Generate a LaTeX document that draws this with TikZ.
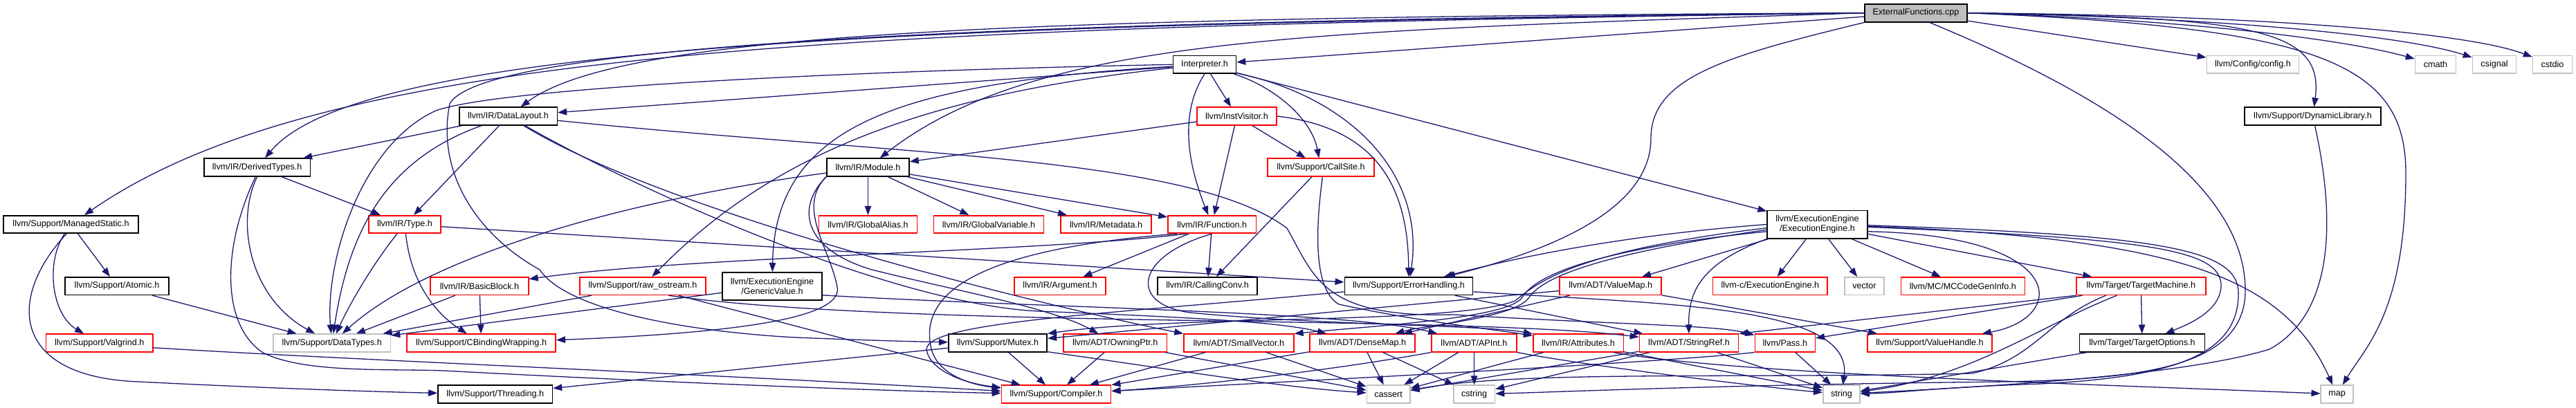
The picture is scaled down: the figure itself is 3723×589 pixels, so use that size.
\documentclass[tikz,border=0pt]{standalone}
\usepackage{fontspec}
\setmainfont{Liberation Sans}
\usetikzlibrary{arrows.meta}
\definecolor{edgecol}{HTML}{191970}
\definecolor{grey75}{HTML}{BFBFBF}
\newcommand\nodefnt{\fontsize{12.6}{14.3}\selectfont}
\begin{document}
\begin{tikzpicture}[x=1pt,y=-1pt,
  nb/.style={draw, line width=1.6pt, inner sep=0pt, minimum height=25.5pt, font=\nodefnt, align=center, text=black},
  bk/.style={nb, draw=black},
  rd/.style={nb, draw=red},
  gy/.style={nb, draw=grey75},
  dep/.style={draw=edgecol, line width=1.3pt, -{Triangle[length=13pt,width=9.5pt]}}]
\useasboundingbox (0,0) rectangle (3723,589);
% row 0
\node[bk, fill=grey75, minimum width=148, minimum height=26] (EF) at (2769,18.7) {ExternalFunctions.cpp};
% row 1
\node[bk, minimum width=91] (I) at (1741,93.3) {Interpreter.h};
\node[gy, minimum width=133] (cfg) at (3256,93.3) {llvm/Config/config.h};
\node[gy, minimum width=59] (cmath) at (3520,93.3) {cmath};
\node[gy, minimum width=63] (csignal) at (3605,93.3) {csignal};
\node[gy, minimum width=57] (cstdio) at (3689,93.3) {cstdio};
% row 2
\node[bk, minimum width=141.6] (DL) at (734.5,168) {llvm/IR/DataLayout.h};
\node[rd, minimum width=115.5] (IV) at (1787.5,168) {llvm/InstVisitor.h};
\node[bk, minimum width=196.7] (DyL) at (3342.5,168) {llvm/Support/DynamicLibrary.h};
% row 3
\node[bk, minimum width=153.4] (DvT) at (371.7,242) {llvm/IR/DerivedTypes.h};
\node[bk, minimum width=119] (Mod) at (1254.5,242) {llvm/IR/Module.h};
\node[rd, minimum width=154] (CS) at (1909,242) {llvm/Support/CallSite.h};
% row 4
\node[bk, minimum width=195] (MS) at (102.5,324.5) {llvm/Support/ManagedStatic.h};
\node[rd, minimum width=104] (Ty) at (585,324.5) {llvm/IR/Type.h};
\node[rd, minimum width=141.7] (GA) at (1254.5,324.5) {llvm/IR/GlobalAlias.h};
\node[rd, minimum width=159] (GVar) at (1429,324.5) {llvm/IR/GlobalVariable.h};
\node[rd, minimum width=131] (Meta) at (1598.5,324.5) {llvm/IR/Metadata.h};
\node[rd, minimum width=127.5] (Fn) at (1751.7,324.5) {llvm/IR/Function.h};
\node[bk, minimum width=144.5, minimum height=40.4] (EE) at (2626.5,324.5) {llvm/ExecutionEngine\\/ExecutionEngine.h};
% row 5
\node[bk, minimum width=150] (At) at (169,413.7) {llvm/Support/Atomic.h};
\node[rd, minimum width=141.6] (BB) at (693,413.7) {llvm/IR/BasicBlock.h};
\node[rd, minimum width=181.6] (RO) at (929,413.7) {llvm/Support/raw\_ostream.h};
\node[bk, minimum width=143.8, minimum height=40] (GV) at (1116,414) {llvm/ExecutionEngine\\/GenericValue.h};
\node[rd, minimum width=132.3] (Arg) at (1532,413.7) {llvm/IR/Argument.h};
\node[bk, minimum width=144.4] (CC) at (1745,413.7) {llvm/IR/CallingConv.h};
\node[bk, minimum width=185.3] (EH) at (2036,413.7) {llvm/Support/ErrorHandling.h};
\node[rd, minimum width=147] (VM) at (2327.7,413.7) {llvm/ADT/ValueMap.h};
\node[rd, minimum width=165.8] (LcEE) at (2558.3,413.7) {llvm-c/ExecutionEngine.h};
\node[gy, minimum width=57.5] (vec) at (2694.5,413.7) {vector};
\node[rd, minimum width=179] (MC) at (2836.8,413.7) {llvm/MC/MCCodeGenInfo.h};
\node[rd, minimum width=187] (TM) at (3094.3,413.7) {llvm/Target/TargetMachine.h};
% row 6
\node[rd, minimum width=154.7] (Vg) at (143.8,496) {llvm/Support/Valgrind.h};
\node[gy, minimum width=169.5] (DT) at (479.7,496) {llvm/Support/DataTypes.h};
\node[rd, minimum width=215.3] (CBW) at (695.6,496) {llvm/Support/CBindingWrapping.h};
\node[bk, minimum width=142.5] (Mx) at (1442,496) {llvm/Support/Mutex.h};
\node[rd, minimum width=149.5] (OP) at (1611.7,496) {llvm/ADT/OwningPtr.h};
\node[rd, minimum width=158.8] (SV) at (1790.4,496) {llvm/ADT/SmallVector.h};
\node[rd, minimum width=151.5] (DM) at (1969,496) {llvm/ADT/DenseMap.h};
\node[rd, minimum width=122.8] (AP) at (2130.4,496) {llvm/ADT/APInt.h};
\node[rd, minimum width=130.6] (Attr) at (2281,496) {llvm/IR/Attributes.h};
\node[rd, minimum width=142.9] (SR) at (2441,496) {llvm/ADT/StringRef.h};
\node[rd, minimum width=87] (Pass) at (2579.8,496) {llvm/Pass.h};
\node[rd, minimum width=179.8] (VH) at (2789,496) {llvm/Support/ValueHandle.h};
\node[bk, minimum width=181.3] (TO) at (3096,496) {llvm/Target/TargetOptions.h};
% row 7
\node[bk, minimum width=165.4] (Thr) at (715.7,570) {llvm/Support/Threading.h};
\node[rd, minimum width=158.3] (Comp) at (1526.5,570) {llvm/Support/Compiler.h};
\node[gy, minimum width=62.3] (cas) at (2006.6,570) {cassert};
\node[gy, minimum width=59.6] (cstr) at (2130.6,570) {cstring};
\node[gy, minimum width=53.4] (str) at (2661.4,570) {string};
\node[gy, minimum width=46.5] (map) at (3377.5,570) {map};

% ---- ExternalFunctions.cpp
\draw[dep] (EF) -- (I);
\draw[dep] (EF) -- (cfg);
\draw[dep] (EF.east) .. controls (3150,28) and (3380,55) .. (cmath);
\draw[dep] (EF.east) .. controls (3200,25) and (3470,50) .. (csignal);
\draw[dep] (EF.east) .. controls (3250,22) and (3560,45) .. (cstdio);
\draw[dep] (EF.east) .. controls (3250,25) and (3360,40) .. (DyL);
\draw[dep] (EF.east) .. controls (3350,40) and (3477,90) .. (3477,250) .. controls (3477,450) and (3420,500) .. (map);
\draw[dep] (EF.-35) .. controls (3000,120) and (3245,250) .. (3245,420) .. controls (3245,530) and (3100,548) .. (2900,552) .. controls (2500,556) and (2250,567) .. (cstr);
\draw[dep] (EF.south west) .. controls (2500,80) and (2386,110) .. (2386,200) .. controls (2386,300) and (2250,360) .. (EH);
\draw[dep] (EF.west) .. controls (1500,25) and (900,45) .. (DL);
\draw[dep] (EF.west) .. controls (1300,35) and (520,65) .. (DvT);
\draw[dep] (EF.west) .. controls (1200,40) and (470,70) .. (MS);
\draw[dep] (EF.west) .. controls (1900,45) and (1500,50) .. (Mod);
\draw[dep] (EF.west) .. controls (1500,30) and (700,60) .. (650,150) .. controls (630,250) and (690,340) .. (780,390) .. controls (820,450) and (1000,480) .. (1150,488) .. controls (1250,492) and (1320,494) .. (Mx);
% ---- Interpreter.h
\draw[dep] (I) -- (EE);
\draw[dep] (I) .. controls (1300,120) and (1120,180) .. (GV);
\draw[dep] (I) -- (DL);
\draw[dep] (I.west) .. controls (1200,103) and (720,128) .. (630,160) .. controls (520,210) and (470,380) .. (DT);
\draw[dep] (I.south) .. controls (1700,170) and (1722,250) .. (Fn);
\draw[dep] (I) -- (IV);
\draw[dep] (I) .. controls (1840,125) and (1895,170) .. (CS);
\draw[dep] (I.-15) .. controls (1950,140) and (2060,250) .. (EH);
\draw[dep] (I) .. controls (1300,140) and (1100,240) .. (RO);
% ---- InstVisitor.h
\draw[dep] (IV) -- (Mod);
\draw[dep] (IV) -- (Fn);
\draw[dep] (IV) -- (CS);
\draw[dep] (IV.east) .. controls (1990,185) and (2035,270) .. (EH);
% ---- DataLayout.h
\draw[dep] (DL) -- (DvT);
\draw[dep] (DL) .. controls (560,230) and (505,330) .. (DT);
\draw[dep] (DL) -- (Ty);
\draw[dep] (DL) .. controls (950,300) and (1450,430) .. (SV.north west);
\draw[dep] (DL) .. controls (950,290) and (1300,440) .. (1500,450) .. controls (1700,458) and (1850,465) .. (DM);
\draw[dep] (DL.-5) .. controls (1300,225) and (1720,225) .. (1860,330) .. controls (1900,400) and (1910,460) .. (2100,455) .. controls (2350,470) and (2480,470) .. (Pass);
% ---- DerivedTypes.h
\draw[dep] (DvT) -- (Ty);
\draw[dep] (DvT.south) .. controls (340,320) and (360,430) .. (DT);
\draw[dep] (DvT.-100) .. controls (320,360) and (320,470) .. (380,510) .. controls (440,540) and (560,533) .. (640,536) .. controls (1000,555) and (1300,566) .. (Comp);
% ---- Module.h
\draw[dep] (Mod) -- (GA);
\draw[dep] (Mod) -- (GVar);
\draw[dep] (Mod) -- (Meta);
\draw[dep] (Mod) -- (Fn);
\draw[dep] (Mod) .. controls (900,290) and (620,370) .. (DT);
\draw[dep] (Mod.south west) .. controls (1150,300) and (1200,360) .. (1210,415) .. controls (1218,455) and (1100,480) .. (CBW);
\draw[dep] (Mod.south west) .. controls (1150,300) and (1160,360) .. (1260,390) .. controls (1380,420) and (1520,445) .. (OP);
% ---- Type.h
\draw[dep] (Ty) .. controls (540,380) and (505,440) .. (DT);
\draw[dep] (Ty) .. controls (595,420) and (640,460) .. (CBW);
\draw[dep] (Ty) -- (EH);
% ---- Function.h
\draw[dep] (Fn) -- (Arg);
\draw[dep] (Fn) -- (CC);
\draw[dep] (Fn.-160) .. controls (1500,365) and (1000,370) .. (BB);
\draw[dep] (Fn.-165) .. controls (1420,360) and (1330,420) .. (1345,500) .. controls (1352,540) and (1400,556) .. (Comp);
\draw[dep] (Fn.south) .. controls (1640,370) and (1630,440) .. (1720,452) .. controls (1900,470) and (2150,470) .. (Attr);
% ---- CallSite.h
\draw[dep] (CS) -- (CC);
\draw[dep] (CS.-80) .. controls (1900,340) and (1900,420) .. (1935,440) .. controls (2050,465) and (2150,475) .. (Attr);
% ---- misc
\draw[dep] (GV) -- (DT);
\draw[dep] (GV.-10) .. controls (1500,445) and (1950,450) .. (AP);
\draw[dep] (RO) -- (DT);
\draw[dep] (RO) -- (Comp);
\draw[dep] (RO.-20) .. controls (1300,475) and (2100,455) .. (SR);
\draw[dep] (BB) -- (CBW);
\draw[dep] (BB) -- (DT);
\draw[dep] (At) -- (DT);
\draw[dep] (MS) -- (At);
\draw[dep] (MS) .. controls (65,380) and (75,455) .. (Vg);
\draw[dep] (MS.-115) .. controls (10,430) and (15,545) .. (200,552) .. controls (400,562) and (560,567) .. (Thr);
\draw[dep] (Vg.-5) .. controls (500,520) and (1000,540) .. (Comp);
% ---- row 6 to row 7
\draw[dep] (Mx) -- (Comp);
\draw[dep] (Mx) -- (Thr);
\draw[dep] (Mx.-10) .. controls (1700,535) and (1850,560) .. (cas);
\draw[dep] (OP) -- (Comp);
\draw[dep] (OP) -- (cas);
\draw[dep] (SV) -- (Comp);
\draw[dep] (SV) -- (cas);
\draw[dep] (DM) -- (cas);
\draw[dep] (DM) -- (cstr);
\draw[dep] (DM) -- (Comp);
\draw[dep] (AP) -- (cas);
\draw[dep] (AP) -- (cstr);
\draw[dep] (AP.south west) .. controls (1900,540) and (1700,560) .. (Comp);
\draw[dep] (AP.south east) .. controls (2300,530) and (2550,560) .. (str);
\draw[dep] (Attr) -- (cas);
\draw[dep] (Attr.-15) .. controls (2500,540) and (3000,555) .. (map);
\draw[dep] (Attr) -- (str);
\draw[dep] (SR) -- (cas);
\draw[dep] (SR) -- (cstr);
\draw[dep] (SR) -- (str);
% ---- ErrorHandling.h, ValueMap.h
\draw[dep] (EH) -- (SR);
\draw[dep] (EH.-175) .. controls (1600,455) and (1320,465) .. (1340,510) .. controls (1350,540) and (1400,555) .. (Comp);
\draw[dep] (EH.-5) .. controls (2400,440) and (2680,440) .. (str);
\draw[dep] (VM) -- (DM);
\draw[dep] (VM) -- (Mx);
\draw[dep] (VM) -- (VH);
% ---- ExecutionEngine.h
\draw[dep] (EE) -- (LcEE);
\draw[dep] (EE) -- (vec);
\draw[dep] (EE) -- (MC);
\draw[dep] (EE) -- (TM);
\draw[dep] (EE) -- (VM);
\draw[dep] (EE.-8) .. controls (2990,340) and (2990,460) .. (VH);
\draw[dep] (EE.-3) .. controls (3100,345) and (3205,360) .. (3210,410) .. controls (3212,450) and (3160,470) .. (TO);
\draw[dep] (EE.-2) .. controls (3150,345) and (3300,400) .. (map);
\draw[dep] (EE.-1) .. controls (3120,340) and (3230,360) .. (3235,420) .. controls (3238,510) and (3150,545) .. (2950,555) .. controls (2800,560) and (2750,568) .. (str);
\draw[dep] (EE.west) .. controls (2350,340) and (2200,370) .. (EH);
\draw[dep] (EE.-172) .. controls (2400,350) and (2230,380) .. (2200,430) .. controls (2180,460) and (2000,470) .. (SV.north east);
\draw[dep] (EE.-174) .. controls (2400,355) and (2240,385) .. (2210,430) .. controls (2190,460) and (2060,470) .. (DM);
\draw[dep] (EE.south west) .. controls (2460,380) and (2440,420) .. (SR);
\draw[dep] (EE.-176) .. controls (2300,360) and (2230,400) .. (2190,435) .. controls (2100,470) and (1700,455) .. (Mx.north east);
% ---- TargetMachine.h
\draw[dep] (TM.south west) -- (SR.north east);
\draw[dep] (TM) -- (Pass);
\draw[dep] (TM) -- (TO);
\draw[dep] (TM) .. controls (2950,470) and (2850,545) .. (str);
\draw[dep] (TM.-165) .. controls (2960,460) and (2940,520) .. (2850,540) .. controls (2500,548) and (2200,535) .. (cas);
% ---- others
\draw[dep] (Pass) -- (str);
\draw[dep] (Pass.south west) .. controls (2400,525) and (1800,555) .. (Comp);
\draw[dep] (DyL) .. controls (3372,300) and (3380,450) .. (3280,505) .. controls (3150,545) and (2850,560) .. (str);
\draw[dep] (TO) -- (str);
\end{tikzpicture}
\end{document}
